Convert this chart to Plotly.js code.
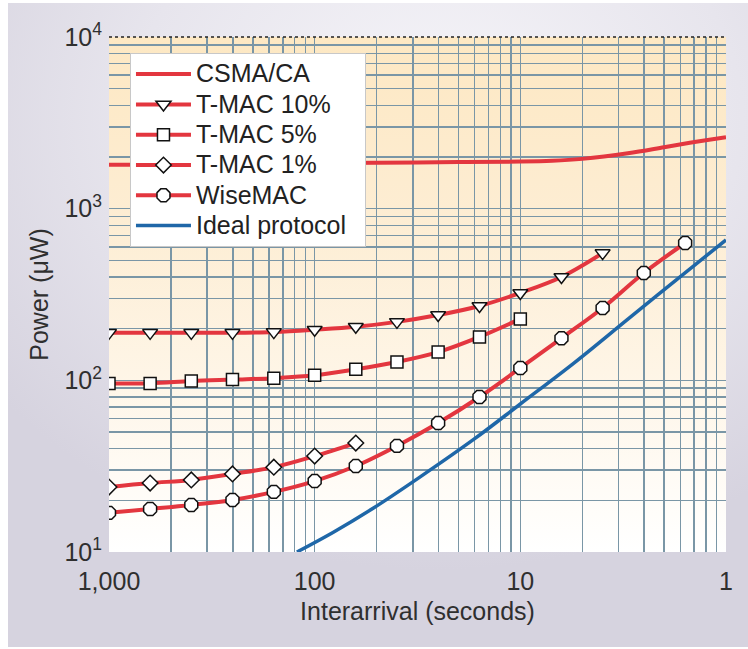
<!DOCTYPE html>
<html>
<head>
<meta charset="utf-8">
<script src="https://cdn.plot.ly/plotly-3.0.1.min.js"></script>
<style>
  html, body { margin: 0; padding: 0; background: #ffffff; }
  #panel { position: absolute; left: 8px; top: 3px; width: 740px; height: 644px;
    background: radial-gradient(ellipse 75% 70% at 58% 18%, #f6f5f9 0%, #e7e5ed 55%, #d6d3df 100%); }
  #plotbg { position: absolute; left: 109px; top: 37px; width: 617px; height: 515px;
    background: linear-gradient(to bottom, #fde8c3 0%, #fdedd3 35%, #fef5e6 65%, #fffbf5 85%, #ffffff 100%); }
  #chart { position: absolute; left: 0; top: 0; width: 748px; height: 649px; }
</style>
</head>
<body>
<div id="panel"></div>
<div id="plotbg"></div>
<div id="chart"></div>
<script>
// Interarrival (seconds) for the marker series
const interarrival = [1000, 631, 398, 251, 158, 100, 63.1, 39.8, 25.1, 15.8, 10, 6.31, 3.98, 2.51, 1.58];

// Power (uW)
const tmac10 = [189, 189, 189, 189, 191, 197, 205, 219, 240, 271, 323, 400, 551];
const tmac5  = [96, 96, 99, 101, 103, 107, 116, 128, 146, 179, 228];
const tmac1  = [23.9, 25.2, 26.3, 28.5, 31.2, 36.2, 43.1];
const wisemac = [16.9, 17.8, 18.8, 20.1, 22.4, 25.9, 31.7, 41.5, 56.4, 80, 118, 176, 264, 422, 631];

const csmaX = [1000, 500, 200, 100, 50, 20, 10, 7, 5, 3, 2, 1.5, 1];
const csmaY = [1800, 1800, 1820, 1840, 1850, 1870, 1880, 1900, 1950, 2100, 2280, 2420, 2610];

const idealX = [122, 81.5, 51.5, 30.8, 16.8, 10, 5.49, 3.03, 1.75, 1];
const idealY = [10, 13.0, 18.1, 27.3, 45.4, 72.8, 126, 225, 384, 657];

const xTickVals = [1000, 100, 10, 1];
const xTickText = ['1,000', '100', '10', '1'];
const yTickVals = [10, 100, 1000, 10000];
const yTickText = ['10<sup>1</sup>', '10<sup>2</sup>', '10<sup>3</sup>', '10<sup>4</sup>'];

const xGridVals = [500, 333.3, 250, 200, 166.7, 142.9, 125, 111.1,
                   50, 33.33, 25, 20, 16.67, 14.29, 12.5, 11.11,
                   5, 3.333, 2.5, 2, 1.667, 1.429, 1.25, 1.111];
const yGridVals = [20, 30, 40, 50, 60, 70, 80, 90,
                   200, 300, 400, 500, 600, 700, 800, 900,
                   2000, 3000, 4000, 5000, 6000, 7000, 8000, 9000];

const RED = '#e3363f';
const BLUE = '#1f67a8';
const GRID = '#7a96a6';
const FONT = 'Liberation Sans, Arial, Helvetica, sans-serif';
const TXT = '#2f2f2f';

const mk = (sym, size) => ({ symbol: sym, size: size, color: '#ffffff', line: { color: '#111111', width: 1.5 } });
const redLine = { color: RED, width: 4, shape: 'spline', smoothing: 1 };

const traces = [
  { name: 'CSMA/CA', x: csmaX, y: csmaY, mode: 'lines', line: redLine },
  { name: 'T-MAC 10%', x: interarrival.slice(0, tmac10.length), y: tmac10, mode: 'lines+markers',
    line: redLine, marker: mk('triangle-down', 13) },
  { name: 'T-MAC 5%', x: interarrival.slice(0, tmac5.length), y: tmac5, mode: 'lines+markers',
    line: redLine, marker: mk('square', 12) },
  { name: 'T-MAC 1%', x: interarrival.slice(0, tmac1.length), y: tmac1, mode: 'lines+markers',
    line: redLine, marker: mk('diamond', 12) },
  { name: 'WiseMAC', x: interarrival.slice(0, wisemac.length), y: wisemac, mode: 'lines+markers',
    line: redLine, marker: mk('octagon', 14) },
  { name: 'Ideal protocol', x: idealX, y: idealY, mode: 'lines',
    line: { color: BLUE, width: 3.5, shape: 'spline', smoothing: 1 } },
  // empty carrier so the grid-only overlay axes get drawn
  { x: [], y: [], xaxis: 'x2', yaxis: 'y2', mode: 'lines', showlegend: false, hoverinfo: 'skip' }
];

const gridAxis = (range, vals, over, anchor) => ({
  type: 'log', range: range, overlaying: over, anchor: anchor,
  tickmode: 'array', tickvals: vals, showticklabels: false, ticks: '',
  showgrid: true, gridcolor: GRID, gridwidth: 1.5, zeroline: false, showline: false
});

const layout = {
  width: 748, height: 649,
  margin: { l: 109, r: 22, t: 37, b: 97 },
  paper_bgcolor: 'rgba(0,0,0,0)',
  plot_bgcolor: 'rgba(0,0,0,0)',
  font: { family: FONT, size: 25, color: TXT },
  showlegend: true,
  legend: {
    x: 0.034, y: 0.969, xanchor: 'left', yanchor: 'top',
    bgcolor: '#ffffff', bordercolor: '#c8c8c8', borderwidth: 1,
    font: { family: FONT, size: 21, color: '#222222' },
    itemwidth: 55, tracegroupgap: 0
  },
  xaxis: {
    type: 'log', range: [3, 0],
    tickmode: 'array', tickvals: xTickVals, ticktext: xTickText,
    showgrid: true, gridcolor: GRID, gridwidth: 1.5,
    ticks: '', ticklabelstandoff: 12, zeroline: false, showline: false,
    tickfont: { family: FONT, size: 25, color: TXT },
    title: { text: 'Interarrival (seconds)', font: { family: FONT, size: 25, color: TXT }, standoff: 8 }
  },
  yaxis: {
    type: 'log', range: [1, 4],
    tickmode: 'array', tickvals: yTickVals, ticktext: yTickText,
    showgrid: true, gridcolor: GRID, gridwidth: 1.5,
    ticks: '', ticklabelstandoff: 6, zeroline: false, showline: false,
    tickfont: { family: FONT, size: 25, color: TXT },
    title: { text: 'Power (μW)', font: { family: FONT, size: 25, color: TXT }, standoff: 8 }
  },
  xaxis2: gridAxis([3, 0], xGridVals, 'x', 'y2'),
  yaxis2: gridAxis([1, 4], yGridVals, 'y', 'x2'),
  shapes: [
    { type: 'line', xref: 'paper', yref: 'paper', x0: 0, x1: 1, y0: 1, y1: 1,
      line: { color: '#222222', width: 1.5, dash: 'dot' } }
  ]
};

Plotly.newPlot('chart', traces, layout, { displayModeBar: false, staticPlot: true }).then(function (gd) {
  // enlarge legend lettering while keeping the compact row spacing of the original
  gd.querySelectorAll('.legend .legendtext').forEach(function (t) { t.style.fontSize = '25px'; });
  var bg = gd.querySelector('.legend rect.bg');
  if (bg) bg.setAttribute('width', 235);
  document.querySelectorAll('clipPath').forEach(function (cp) {
    if (cp.id && cp.id.indexOf('legend') === 0) {
      cp.querySelectorAll('rect').forEach(function (r) { r.setAttribute('width', 240); });
    }
  });
});
</script>
</body>
</html>
